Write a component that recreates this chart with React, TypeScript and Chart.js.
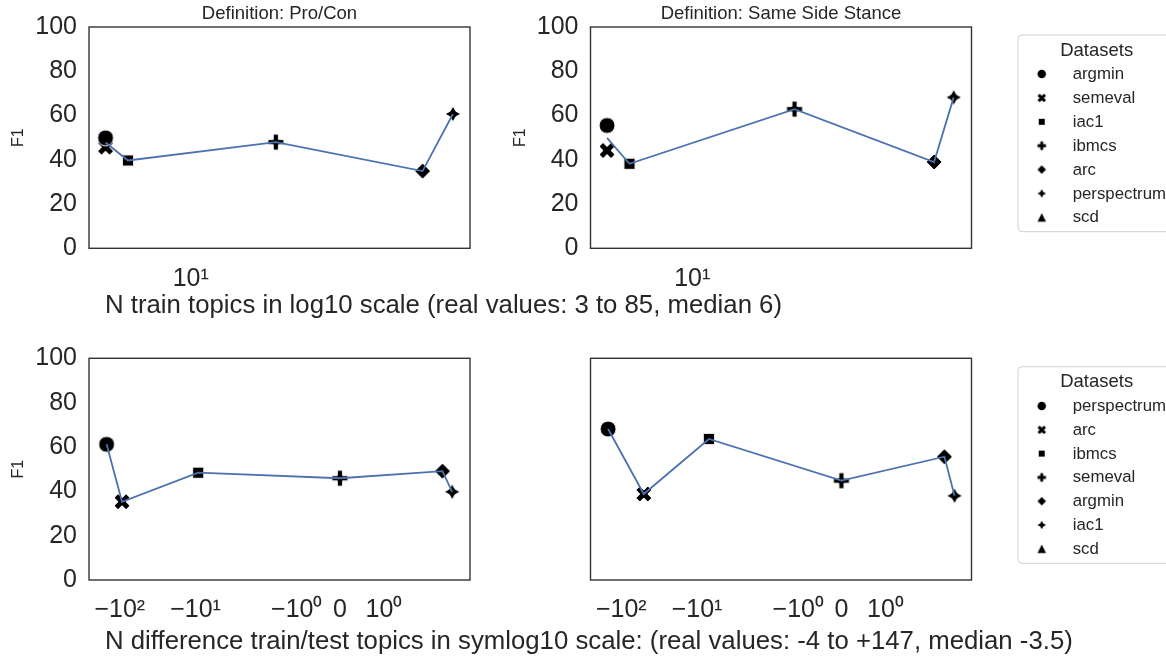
import React, { useEffect, useRef } from "react";
import { Chart, registerables } from "chart.js";

Chart.register(...registerables);

const PAGE_W = 1166;
const PAGE_H = 658;
const FONT = '"Liberation Sans", Arial, Helvetica, sans-serif';
const TEXT = "#262626";
const LINE_BLUE = "#4c72b0";

// ---------------- data ----------------
// Row 1: N train topics (log10 axis)
const trainDatasetNames = ["argmin", "semeval", "iac1", "ibmcs", "arc", "perspectrum", "scd"];
const proConTrainTopics = [5, 5, 6, 20, 66, 84.5];
const proConTrainF1 = [49.9, 45.7, 39.7, 48.0, 34.9, 60.7];
const proConTrainMeanTopics = [5, 6, 20, 66, 84.5];
const proConTrainMeanF1 = [47.8, 39.7, 48.0, 34.9, 60.7];

const sameSideTrainTopics = [5, 5, 6, 23, 71.6, 84];
const sameSideTrainF1 = [55.5, 44.2, 38.2, 62.9, 39.0, 68.2];
const sameSideTrainMeanTopics = [5, 6, 23, 71.6, 84];
const sameSideTrainMeanF1 = [49.9, 38.2, 62.9, 39.0, 68.2];

const logTickValues = [10];
const logTickLabels = ["10\u00b9"];

// Row 2: N difference train/test topics (symlog axis, positions in symlog units)
const diffDatasetNames = ["perspectrum", "arc", "ibmcs", "semeval", "argmin", "iac1", "scd"];
const proConDiffPos = [-5.3, -4.95, -3.22, 0, 2.33, 2.55];
const proConDiffF1 = [61.2, 35.3, 48.4, 45.9, 49.1, 39.8];
const sameSideDiffPos = [-5.3, -4.49, -3.01, 0, 2.34, 2.57];
const sameSideDiffF1 = [68.1, 38.8, 63.6, 44.8, 55.6, 38.0];

const symlogTickPos = [-5.0, -3.28, -0.98, 0, 1.0];
const symlogTickLabels = ["\u221210\u00b2", "\u221210\u00b9", "\u221210\u2070", "0", "10\u2070"];

const markerKinds = ["o", "X", "s", "P", "D", "star4", "^"];

const xLabelTop = "N train topics in log10 scale (real values: 3 to 85, median 6)";
const xLabelBottom =
  "N difference train/test topics in symlog10 scale: (real values: -4 to +147, median -3.5)";

// ---------------- markers ----------------
function tracePath(ctx: CanvasRenderingContext2D, kind: string, s: number) {
  const h = s / 2;
  ctx.beginPath();
  const poly = (pts: number[][], k: number) => {
    pts.forEach(([a, b], i) => {
      const x = a * k;
      const y = b * k;
      if (i === 0) ctx.moveTo(x, y);
      else ctx.lineTo(x, y);
    });
    ctx.closePath();
  };
  switch (kind) {
    case "o":
      ctx.arc(0, 0, h, 0, Math.PI * 2);
      break;
    case "X":
      poly(
        [[-1, -2], [0, -1], [1, -2], [2, -1], [1, 0], [2, 1], [1, 2], [0, 1], [-1, 2], [-2, 1], [-1, 0], [-2, -1]],
        s / 4
      );
      break;
    case "s": {
      const q = h * Math.SQRT1_2;
      ctx.rect(-q, -q, 2 * q, 2 * q);
      break;
    }
    case "P":
      poly(
        [[-1, -3], [1, -3], [1, -1], [3, -1], [3, 1], [1, 1], [1, 3], [-1, 3], [-1, 1], [-3, 1], [-3, -1], [-1, -1]],
        s / 6
      );
      break;
    case "D":
      poly([[0, -1], [1, 0], [0, 1], [-1, 0]], h);
      break;
    case "star4": {
      const pts: number[][] = [];
      for (let i = 0; i < 8; i++) {
        const ang = Math.PI / 2 + (i * Math.PI) / 4;
        const r = i % 2 === 0 ? 1 : 0.5;
        pts.push([r * Math.cos(ang), -r * Math.sin(ang)]);
      }
      poly(pts, h);
      break;
    }
    case "^":
      poly([[0, -1], [-1, 1], [1, 1]], h);
      break;
  }
}

function makeMarker(kind: string, size: number, edge: number): HTMLCanvasElement {
  const c = document.createElement("canvas");
  let dim = Math.ceil(size + edge * 2 + 2);
  if (dim % 2 === 1) dim += 1;
  c.width = dim;
  c.height = dim;
  const ctx = c.getContext("2d")!;
  ctx.translate(dim / 2, dim / 2);
  tracePath(ctx, kind, size);
  ctx.fillStyle = "#000000";
  ctx.fill();
  if (edge > 0) {
    ctx.lineWidth = edge;
    ctx.strokeStyle = "#ffffff";
    ctx.stroke();
  }
  return c;
}

// ---------------- plugins ----------------
const framePlugin = {
  id: "axesFrame",
  afterDraw(chart: any) {
    const { ctx, chartArea } = chart;
    ctx.save();
    ctx.strokeStyle = "#333333";
    ctx.lineWidth = 1.4;
    ctx.strokeRect(chartArea.left, chartArea.top, chartArea.right - chartArea.left, chartArea.bottom - chartArea.top);
    ctx.restore();
  },
};

const legendPlugin = {
  id: "dsLegend",
  afterDraw(chart: any, _args: any, o: any) {
    if (!o || o.x === undefined) return;
    const ctx: CanvasRenderingContext2D = chart.ctx;
    ctx.save();
    const r = 4;
    const { x, y, w, h } = o;
    ctx.beginPath();
    ctx.moveTo(x + r, y);
    ctx.lineTo(x + w - r, y);
    ctx.arcTo(x + w, y, x + w, y + r, r);
    ctx.lineTo(x + w, y + h - r);
    ctx.arcTo(x + w, y + h, x + w - r, y + h, r);
    ctx.lineTo(x + r, y + h);
    ctx.arcTo(x, y + h, x, y + h - r, r);
    ctx.lineTo(x, y + r);
    ctx.arcTo(x, y, x + r, y, r);
    ctx.closePath();
    ctx.fillStyle = "rgba(255,255,255,0.8)";
    ctx.fill();
    ctx.strokeStyle = "#d0d0d0";
    ctx.lineWidth = 1;
    ctx.stroke();

    ctx.fillStyle = TEXT;
    ctx.textBaseline = "alphabetic";
    ctx.textAlign = "center";
    ctx.font = `${o.titleSize}px ${FONT}`;
    ctx.fillText(o.title, o.titleX, o.titleY + o.titleSize * 0.358);

    ctx.textAlign = "left";
    ctx.font = `${o.itemSize}px ${FONT}`;
    const items = chart.data.datasets.filter((d: any) => d.legendMarker);
    items.forEach((d: any, i: number) => {
      const cy = o.itemY0 + i * o.step;
      const m: HTMLCanvasElement = d.legendMarker;
      ctx.drawImage(m, o.markerX - m.width / 2, cy - m.height / 2);
      ctx.fillText(d.label, o.textX, cy + 5);
    });
    ctx.restore();
  },
};

// ---------------- panels ----------------
type Box = { l: number; t: number; r: number; b: number };
type PanelSpec = {
  box: Box;
  title?: string;
  xType: "logarithmic" | "linear";
  xMin: number;
  xMax: number;
  xTickValues: number[];
  xTickLabels: string[];
  names: string[];
  xs: number[];
  ys: number[];
  lineX: number[];
  lineY: number[];
  showY: boolean;
  legend?: any;
};

function buildPanel(canvas: HTMLCanvasElement, spec: PanelSpec) {
  const yW = spec.showY ? 89 : 0;
  const xH = 50;
  const titleH = spec.title ? 26 : 0;
  const titleSize = 18.5;
  const datasets: any[] = [];
  datasets.push({
    type: "line",
    label: "mean",
    data: spec.lineX.map((x, i) => ({ x, y: spec.lineY[i] })),
    borderColor: LINE_BLUE,
    borderWidth: 1.8,
    pointRadius: 0,
    fill: false,
    showLine: true,
    tension: 0,
    order: 0,
  });
  spec.names.forEach((name, i) => {
    const pts = i < spec.xs.length ? [{ x: spec.xs[i], y: spec.ys[i] }] : [];
    datasets.push({
      type: "scatter",
      label: name,
      data: pts,
      pointStyle: makeMarker(markerKinds[i], 16, 1),
      legendMarker: makeMarker(markerKinds[i], 8.5, 0),
      pointRadius: 8,
      backgroundColor: "#000",
      borderColor: "#fff",
      order: 1,
    });
  });

  return new Chart(canvas, {
    type: "scatter",
    data: { datasets },
    options: {
      responsive: false,
      maintainAspectRatio: false,
      animation: false,
      devicePixelRatio: 1,
      events: [],
      layout: {
        padding: {
          left: spec.box.l - yW,
          right: PAGE_W - spec.box.r,
          top: spec.box.t - titleH,
          bottom: PAGE_H - spec.box.b - xH,
        },
      },
      plugins: {
        legend: { display: false },
        tooltip: { enabled: false },
        title: spec.title
          ? {
              display: true,
              text: spec.title,
              fullSize: false,
              color: TEXT,
              font: { family: FONT, size: titleSize, weight: "normal" },
              padding: { top: 1.5, bottom: titleH - 1.5 - titleSize * 1.2 },
            }
          : { display: false },
        dsLegend: spec.legend || false,
      },
      scales: {
        x: {
          type: spec.xType,
          min: spec.xMin,
          max: spec.xMax,
          position: "bottom",
          grid: { display: false, drawTicks: false },
          border: { display: false },
          ticks: {
            autoSkip: false,
            maxRotation: 0,
            minRotation: 0,
            padding: 15.5,
            color: TEXT,
            font: { family: FONT, size: 25 },
            callback: (_v: any, i: number) => spec.xTickLabels[i] ?? "",
          },
          afterBuildTicks: (s: any) => {
            s.ticks = spec.xTickValues.map((v) => ({ value: v }));
          },
          afterFit: (s: any) => {
            s.height = xH;
          },
        },
        y: {
          min: 0,
          max: 100,
          grid: { display: false, drawTicks: false },
          border: { display: false },
          ticks: {
            display: spec.showY,
            stepSize: 20,
            padding: 12,
            color: TEXT,
            font: { family: FONT, size: 25 },
          },
          title: {
            display: spec.showY,
            text: "F1",
            color: TEXT,
            font: { family: FONT, size: 16 },
            padding: { top: 9.4, bottom: 0 },
          },
          afterFit: (s: any) => {
            s.width = yW;
          },
        },
      },
    } as any,
    plugins: [framePlugin, legendPlugin],
  });
}

const legendTop = {
  x: 1018,
  y: 35,
  w: 300,
  h: 196.7,
  title: "Datasets",
  titleSize: 18.5,
  titleX: 1096.7,
  titleY: 49,
  itemSize: 16.8,
  itemY0: 74,
  step: 23.9,
  markerX: 1041.7,
  textX: 1072.7,
};
const legendBottom = { ...legendTop, y: 366.7, h: 196.6, titleY: 380.7, itemY0: 406, step: 23.8 };

const LEFT_BOX_X = { l: 89, r: 470 };
const RIGHT_BOX_X = { l: 590.5, r: 971.5 };
const TOP_BOX_Y = { t: 26, b: 248.3 };
const BOTTOM_BOX_Y = { t: 358.3, b: 580 };

export default function App() {
  const r1 = useRef<HTMLCanvasElement>(null);
  const r2 = useRef<HTMLCanvasElement>(null);
  const r3 = useRef<HTMLCanvasElement>(null);
  const r4 = useRef<HTMLCanvasElement>(null);

  useEffect(() => {
    const logCommon = {
      xType: "logarithmic" as const,
      xMin: 4.37,
      xMax: 97.1,
      xTickValues: logTickValues,
      xTickLabels: logTickLabels,
      names: trainDatasetNames,
    };
    const symCommon = {
      xType: "linear" as const,
      xMin: -5.7,
      xMax: 2.955,
      xTickValues: symlogTickPos,
      xTickLabels: symlogTickLabels,
      names: diffDatasetNames,
    };
    const charts = [
      buildPanel(r1.current!, {
        ...logCommon,
        box: { ...LEFT_BOX_X, ...TOP_BOX_Y },
        title: "Definition: Pro/Con",
        xs: proConTrainTopics,
        ys: proConTrainF1,
        lineX: proConTrainMeanTopics,
        lineY: proConTrainMeanF1,
        showY: true,
      }),
      buildPanel(r2.current!, {
        ...logCommon,
        box: { ...RIGHT_BOX_X, ...TOP_BOX_Y },
        title: "Definition: Same Side Stance",
        xs: sameSideTrainTopics,
        ys: sameSideTrainF1,
        lineX: sameSideTrainMeanTopics,
        lineY: sameSideTrainMeanF1,
        showY: true,
        legend: legendTop,
      }),
      buildPanel(r3.current!, {
        ...symCommon,
        box: { ...LEFT_BOX_X, ...BOTTOM_BOX_Y },
        xs: proConDiffPos,
        ys: proConDiffF1,
        lineX: proConDiffPos,
        lineY: proConDiffF1,
        showY: true,
      }),
      buildPanel(r4.current!, {
        ...symCommon,
        box: { ...RIGHT_BOX_X, ...BOTTOM_BOX_Y },
        xs: sameSideDiffPos,
        ys: sameSideDiffF1,
        lineX: sameSideDiffPos,
        lineY: sameSideDiffF1,
        showY: false,
        legend: legendBottom,
      }),
    ];
    return () => charts.forEach((c) => c.destroy());
  }, []);

  const canvasStyle: React.CSSProperties = { position: "absolute", left: 0, top: 0 };
  const labelStyle: React.CSSProperties = {
    position: "absolute",
    left: 105,
    fontFamily: FONT,
    fontSize: 25.75,
    lineHeight: "25.75px",
    color: TEXT,
    whiteSpace: "nowrap",
  };

  return (
    <div
      style={{
        position: "fixed",
        left: 0,
        top: 0,
        width: PAGE_W,
        height: PAGE_H,
        background: "#ffffff",
        overflow: "hidden",
      }}
    >
      <canvas ref={r1} width={PAGE_W} height={PAGE_H} style={canvasStyle} />
      <canvas ref={r2} width={PAGE_W} height={PAGE_H} style={canvasStyle} />
      <canvas ref={r3} width={PAGE_W} height={PAGE_H} style={canvasStyle} />
      <canvas ref={r4} width={PAGE_W} height={PAGE_H} style={canvasStyle} />
      <div style={{ ...labelStyle, top: 291.5 }}>{xLabelTop}</div>
      <div style={{ ...labelStyle, top: 628.3 }}>{xLabelBottom}</div>
    </div>
  );
}
